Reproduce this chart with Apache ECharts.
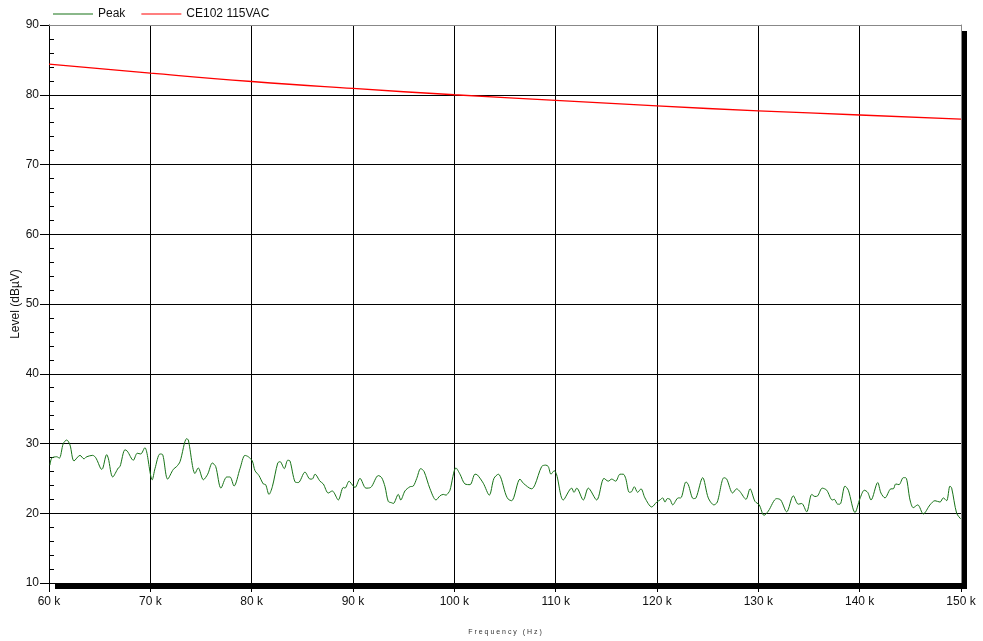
<!DOCTYPE html>
<html>
<head>
<meta charset="utf-8">
<script src="https://cdn.jsdelivr.net/npm/echarts@6/dist/echarts.min.js"></script>
<style>
  html, body { margin: 0; padding: 0; background: #fff; }
  #container { width: 983px; height: 641px; }
</style>
</head>
<body>
<div id="container"></div>
<script>
// 频率 (kHz) 与电平 (dBµV)
var peakFreq = [60.1, 60.27, 60.76, 61.02, 61.41, 61.75, 62.07, 62.47, 63.06, 63.45, 63.72, 64.31, 64.64, 65.1, 65.23, 65.69, 65.85, 66.29, 66.84, 67.01,
  67.5, 67.73, 68.32, 68.71, 69.05, 69.47, 69.64, 70.19, 70.46, 70.95, 71.22, 71.71, 72.27, 72.6, 72.93, 73.59, 73.75, 74.41, 74.73, 75.23,
  75.66, 76.12, 76.45, 76.97, 77.54, 77.86, 78.26, 78.85, 79.34, 79.67, 80.06, 80.33, 80.72, 81.15, 81.38, 81.71, 82.04, 82.57, 82.8, 83.22,
  83.56, 83.78, 84.28, 84.6, 85.26, 85.76, 85.98, 86.25, 86.74, 87.07, 87.56, 87.96, 88.15, 88.55, 89.04, 89.21, 89.61, 89.7, 90.2, 90.69,
  91.28, 91.75, 92.5, 92.83, 93.16, 93.48, 93.82, 93.98, 94.47, 94.71, 95.13, 95.62, 95.95, 96.29, 96.68, 97.01, 97.6, 98.19, 98.59, 98.91,
  99.18, 99.4, 99.57, 100.16, 100.56, 101.05, 101.55, 102.04, 102.27, 102.86, 103.45, 103.91, 104.34, 105.1, 105.33, 105.66, 106.48, 106.81, 107.64, 107.96,
  108.62, 109.02, 109.27, 109.54, 109.86, 110.1, 110.75, 111.58, 111.81, 112.08, 112.73, 113.22, 114.05, 114.77, 115.19, 115.53, 115.92, 116.35, 116.67, 116.91,
  117.27, 117.5, 117.76, 118.09, 118.42, 118.81, 119.48, 119.97, 120.29, 120.56, 120.79, 121.02, 121.28, 121.55, 122.1, 122.34, 122.86, 123.09, 123.58, 123.85,
  124.51, 125.06, 125.62, 125.95, 126.61, 126.88, 127.47, 127.86, 128.19, 128.78, 129.18, 129.67, 130.09, 130.56, 130.98, 131.81, 132.21, 132.8, 133.45, 133.94,
  134.28, 134.77, 135.27, 135.59, 135.86, 136.31, 136.75, 137.3, 137.5, 137.83, 138.06, 138.55, 138.88, 139.54, 140.03, 140.46, 140.79, 141.12, 141.78, 142.1,
  142.5, 143.09, 143.32, 143.56, 143.88, 144.31, 144.54, 144.97, 145.29, 145.73, 146.28, 146.94, 147.43, 147.93, 148.25, 148.58, 148.91, 149.08, 149.57, 149.97];
var peakLevel = [26.9, 27.9, 28.1, 27.9, 30.0, 30.5, 29.8, 27.5, 28.3, 27.8, 28.1, 28.3, 27.9, 26.4, 26.3, 28.4, 27.9, 25.2, 26.5, 26.7,
  29.1, 28.9, 27.6, 28.6, 28.5, 29.4, 28.8, 24.8, 26.4, 28.5, 28.4, 24.9, 26.3, 26.7, 27.4, 30.7, 30.5, 25.7, 26.5, 24.8,
  25.6, 27.2, 26.7, 23.6, 25.2, 25.2, 23.9, 26.4, 28.3, 28.1, 27.5, 26.1, 25.4, 24.2, 24.1, 22.7, 23.8, 27.2, 27.4, 26.4,
  27.6, 27.5, 24.5, 24.4, 25.9, 24.9, 24.9, 25.6, 24.6, 24.2, 22.9, 23.2, 22.9, 21.9, 23.7, 23.6, 24.6, 24.5, 23.7, 25.0,
  23.6, 23.7, 25.4, 25.1, 23.8, 21.7, 21.5, 21.4, 22.7, 21.9, 23.2, 23.8, 23.9, 25.0, 26.4, 26.0, 23.5, 21.9, 22.5, 22.7,
  22.6, 22.9, 23.3, 26.5, 25.6, 24.2, 24.1, 25.6, 25.5, 24.3, 22.6, 25.0, 25.6, 22.6, 22.0, 21.8, 24.9, 24.3, 23.5, 24.1,
  26.7, 26.9, 26.7, 25.6, 26.1, 25.5, 21.9, 23.6, 23.0, 23.6, 21.9, 23.6, 21.9, 25.0, 24.6, 24.9, 24.6, 25.6, 25.6, 25.0,
  23.0, 23.1, 23.8, 23.0, 23.5, 22.2, 20.9, 21.6, 21.9, 22.2, 21.6, 22.1, 22.0, 21.2, 22.2, 22.2, 24.5, 24.1, 22.1, 22.2,
  25.1, 22.2, 21.2, 21.6, 25.1, 24.9, 22.9, 23.5, 23.1, 22.0, 23.5, 21.7, 21.2, 19.7, 20.3, 22.1, 21.9, 20.2, 22.5, 21.3,
  21.4, 20.2, 22.7, 22.4, 22.5, 23.6, 23.3, 21.9, 22.0, 21.3, 21.3, 23.9, 23.3, 20.1, 22.1, 23.3, 23.0, 21.9, 24.4, 22.9,
  22.2, 23.5, 23.5, 24.2, 24.1, 25.1, 25.1, 21.9, 20.8, 21.2, 19.9, 21.2, 21.8, 21.6, 22.2, 21.8, 23.9, 23.6, 20.0, 19.2];

// 限值线
var limitFreq = [60, 70, 80, 90, 100, 110, 120, 130, 140, 150];
var limitLevel = [84.4, 83.1, 81.9, 80.9, 80.0, 79.2, 78.4, 77.7, 77.1, 76.5];

var yTicks = [10, 20, 30, 40, 50, 60, 70, 80, 90];

var myChart = echarts.init(document.getElementById('container'));

function pairs(xs, ys) {
	return xs.map(function (x, i) { return [x, ys[i]]; });
}

var textFont = 'Liberation Sans';
var yMin = yTicks[0], yMax = yTicks[yTicks.length - 1];

var option = {
	animation: false,
	textStyle: { fontFamily: textFont },
	legend: {
		left: 48,
		top: 3,
		icon: 'rect',
		itemWidth: 40,
		itemHeight: 1,
		itemGap: 16,
		textStyle: { fontSize: 12, color: '#111', fontFamily: textFont },
		data: ['Peak', 'CE102 115VAC']
	},
	grid: {
		left: 49,
		right: 22,
		top: 25,
		bottom: 58,
		outerBoundsMode: 'none',
		containLabel: false,
		show: true,
		backgroundColor: '#fff',
		borderWidth: 0,
		shadowColor: '#000',
		shadowBlur: 0,
		shadowOffsetX: 6,
		shadowOffsetY: 6
	},
	xAxis: [{
		type: 'value',
		min: 60,
		max: 150,
		interval: 10,
		name: 'F r e q u e n c y   ( H z )',
		nameLocation: 'middle',
		nameGap: 46,
		nameMoveOverlap: false,
		nameTextStyle: { fontSize: 7, color: '#333', fontFamily: textFont },
		axisLine: { show: true, onZero: false, lineStyle: { color: '#000' } },
		axisTick: { show: true, length: 9, lineStyle: { color: '#000' } },
		axisLabel: { formatter: '{value} k', fontSize: 12, color: '#111', margin: 13 },
		splitLine: { show: true, lineStyle: { color: '#000', width: 1 } }
	}, {
		// 顶部灰色边框
		type: 'value',
		position: 'top',
		min: 60,
		max: 150,
		interval: 10,
		axisLine: { show: true, onZero: false, lineStyle: { color: '#888' } },
		axisTick: { show: false },
		axisLabel: { show: false },
		splitLine: { show: false }
	}],
	yAxis: [{
		type: 'value',
		min: yMin,
		max: yMax,
		interval: 10,
		name: 'Level (dBµV)',
		nameLocation: 'middle',
		nameGap: 27,
		nameMoveOverlap: false,
		nameTextStyle: { fontSize: 12, color: '#111', fontFamily: textFont },
		axisLine: { show: true, onZero: false, lineStyle: { color: '#000' } },
		axisTick: { show: true, length: 9, lineStyle: { color: '#000' } },
		axisLabel: { fontSize: 12, color: '#111', margin: 10 },
		splitLine: { show: true, lineStyle: { color: '#000', width: 1 } }
	}, {
		// 内侧小刻度
		type: 'value',
		position: 'left',
		min: yMin,
		max: yMax,
		interval: 10,
		axisLine: { show: false, onZero: false },
		axisTick: { show: false, inside: true },
		minorTick: { show: true, splitNumber: 5, length: 5, lineStyle: { color: '#000' } },
		axisLabel: { show: false },
		splitLine: { show: false }
	}, {
		// 右侧灰色边框
		type: 'value',
		position: 'right',
		min: yMin,
		max: yMax,
		interval: 10,
		axisLine: { show: true, onZero: false, lineStyle: { color: '#888' } },
		axisTick: { show: false },
		axisLabel: { show: false },
		splitLine: { show: false }
	}],
	series: [{
		name: 'Peak',
		type: 'line',
		data: pairs(peakFreq, peakLevel),
		smooth: 0.3,
		showSymbol: false,
		symbol: 'none',
		color: '#177317',
		lineStyle: { color: '#177317', width: 1 }
	}, {
		name: 'CE102 115VAC',
		type: 'line',
		data: pairs(limitFreq, limitLevel),
		smooth: true,
		showSymbol: false,
		symbol: 'none',
		color: '#ff0000',
		lineStyle: { color: '#ff0000', width: 1.3 }
	}]
};

myChart.setOption(option);
</script>
</body>
</html>
